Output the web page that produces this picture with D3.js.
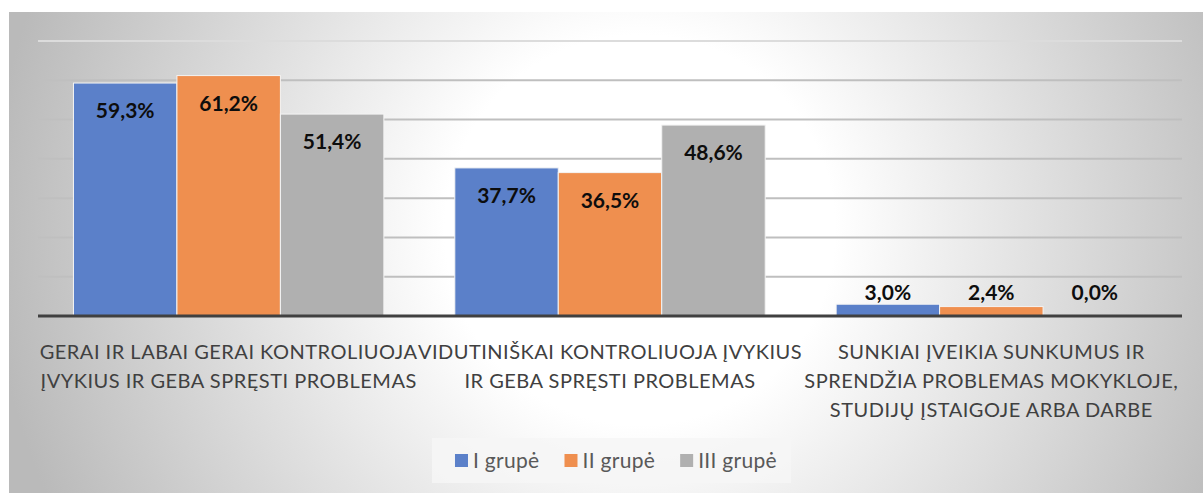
<!DOCTYPE html>
<html>
<head>
<meta charset="utf-8">
<script src="https://cdn.jsdelivr.net/npm/d3@7"></script>
<style>
  html, body { margin: 0; padding: 0; background: #fff; }
  svg { display: block; }
</style>
</head>
<body>
<svg id="chart"></svg>
<script>
// data
const categories = [
    'GERAI IR LABAI GERAI KONTROLIUOJA ĮVYKIUS IR GEBA SPRĘSTI PROBLEMAS',
    'VIDUTINIŠKAI KONTROLIUOJA ĮVYKIUS IR GEBA SPRĘSTI PROBLEMAS',
    'SUNKIAI ĮVEIKIA SUNKUMUS IR SPRENDŽIA PROBLEMAS MOKYKLOJE, STUDIJŲ ĮSTAIGOJE ARBA DARBE'
];
const categoryLines = [
    ['GERAI IR LABAI GERAI KONTROLIUOJA', 'ĮVYKIUS IR GEBA SPRĘSTI PROBLEMAS'],
    ['VIDUTINIŠKAI KONTROLIUOJA ĮVYKIUS', 'IR GEBA SPRĘSTI PROBLEMAS'],
    ['SUNKIAI ĮVEIKIA SUNKUMUS IR', 'SPRENDŽIA PROBLEMAS MOKYKLOJE,', 'STUDIJŲ ĮSTAIGOJE ARBA DARBE']
];
const groups = ['I grupė', 'II grupė', 'III grupė'];
const groupI = [59.3, 37.7, 3.0];
const groupII = [61.2, 36.5, 2.4];
const groupIII = [51.4, 48.6, 0.0];
const gridTicks = [10, 20, 30, 40, 50, 60, 70];

const series = [groupI, groupII, groupIII];
const colors = ['#5b80c9', '#ef8f4f', '#b0b0b0'];

const width = 1203;
const height = 493;
const margin = { top: 41, right: 21, bottom: 177, left: 38 };

const svg = d3.select('#chart')
    .attr('width', width)
    .attr('height', height);

// background
const defs = svg.append('defs');
const grad = defs.append('radialGradient')
    .attr('id', 'bg')
    .attr('gradientUnits', 'userSpaceOnUse')
    .attr('cx', 640).attr('cy', 230).attr('r', 650);
grad.append('stop').attr('offset', '0%').attr('stop-color', '#ffffff');
grad.append('stop').attr('offset', '30%').attr('stop-color', '#ffffff');
grad.append('stop').attr('offset', '100%').attr('stop-color', '#bababa');

svg.append('rect')
    .attr('x', 9).attr('y', 12)
    .attr('width', width - 9).attr('height', height - 12)
    .attr('fill', 'url(#bg)');

// scales
const x0 = d3.scaleBand()
    .domain(d3.range(categories.length))
    .range([margin.left, width - margin.right])
    .paddingInner(0.186)
    .paddingOuter(0.093);

const x1 = d3.scaleBand()
    .domain(d3.range(groups.length))
    .range([0, x0.bandwidth()]);

const y = d3.scaleLinear()
    .domain([0, 70])
    .range([height - margin.bottom, margin.top]);

// gridlines
svg.append('g')
    .attr('class', 'grid')
    .selectAll('line')
    .data(gridTicks)
    .enter()
    .append('line')
        .attr('x1', margin.left)
        .attr('x2', width - margin.right)
        .attr('y1', d => y(d))
        .attr('y2', d => y(d))
        .attr('stroke', d => d === 70 ? '#dcdcdc' : '#bfbfbf')
        .attr('stroke-width', 2);

// bars
const cat = svg.append('g')
    .attr('class', 'bars')
    .selectAll('g')
    .data(categories)
    .enter()
    .append('g')
        .attr('transform', (d, i) => `translate(${x0(i)},0)`);

cat.selectAll('rect')
    .data((d, i) => series.map((s, j) => ({ g: j, v: s[i] })))
    .enter()
    .append('rect')
        .attr('x', d => x1(d.g))
        .attr('y', d => y(d.v))
        .attr('width', x1.bandwidth())
        .attr('height', d => y(0) - y(d.v))
        .attr('fill', d => colors[d.g])
        .attr('stroke', d => d.v > 0 ? '#f4f4f4' : 'none')
        .attr('stroke-width', 1);

// data labels
cat.selectAll('text')
    .data((d, i) => series.map((s, j) => ({ g: j, v: s[i] })))
    .enter()
    .append('text')
        .attr('x', d => x1(d.g) + x1.bandwidth() / 2)
        .attr('y', d => d.v > 10 ? y(d.v) + 35 : y(0) - 16)
        .attr('text-anchor', 'middle')
        .attr('fill', '#0d0d0d')
        .style('font-family', 'Lato, sans-serif')
        .style('font-weight', 'bold')
        .style('font-size', '21px')
        .text(d => d.v.toFixed(1).replace('.', ',') + '%');

// axis line
svg.append('line')
    .attr('x1', margin.left)
    .attr('x2', width - margin.right)
    .attr('y1', y(0))
    .attr('y2', y(0))
    .attr('stroke', '#404040')
    .attr('stroke-width', 3);

// category labels
svg.append('g')
    .attr('class', 'cat-labels')
    .selectAll('text')
    .data(categoryLines)
    .enter()
    .append('text')
        .attr('text-anchor', 'middle')
        .attr('fill', '#404040')
        .style('font-family', 'Lato, sans-serif')
        .style('font-size', '20px')
        .style('letter-spacing', '0.5px')
        .each(function(lines, i) {
            d3.select(this).selectAll('tspan')
                .data(lines)
                .enter()
                .append('tspan')
                    .attr('x', x0(i) + x0.bandwidth() / 2)
                    .attr('y', (d, k) => y(0) + 43 + k * 29)
                    .text(d => d);
        });

// legend
const legend = svg.append('g').attr('class', 'legend');
const legendBox = legend.append('rect')
    .attr('fill', '#f6f6f6')
    .attr('fill-opacity', 0.85);

const items = legend.selectAll('g.item')
    .data(groups)
    .enter()
    .append('g')
        .attr('class', 'item');

items.append('rect')
    .attr('width', 13)
    .attr('height', 13)
    .attr('y', -14)
    .attr('fill', (d, i) => colors[i]);

items.append('text')
    .attr('x', 18)
    .attr('y', 0)
    .attr('fill', '#595959')
    .style('font-family', 'Lato, sans-serif')
    .style('font-size', '21px')
    .style('letter-spacing', '0.3px')
    .text(d => d);

let offset = 0;
const positions = [];
items.each(function() {
    positions.push(offset);
    const w = d3.select(this).select('text').node().getComputedTextLength();
    offset += 18 + w + 25;
});
const legendW = offset - 25;
const legendX = 616 - legendW / 2;
const legendY = 468;
items.attr('transform', (d, i) => `translate(${legendX + positions[i]},${legendY})`);
legendBox
    .attr('x', legendX - 23)
    .attr('y', 438)
    .attr('width', legendW + 37)
    .attr('height', 45);
</script>
</body>
</html>
